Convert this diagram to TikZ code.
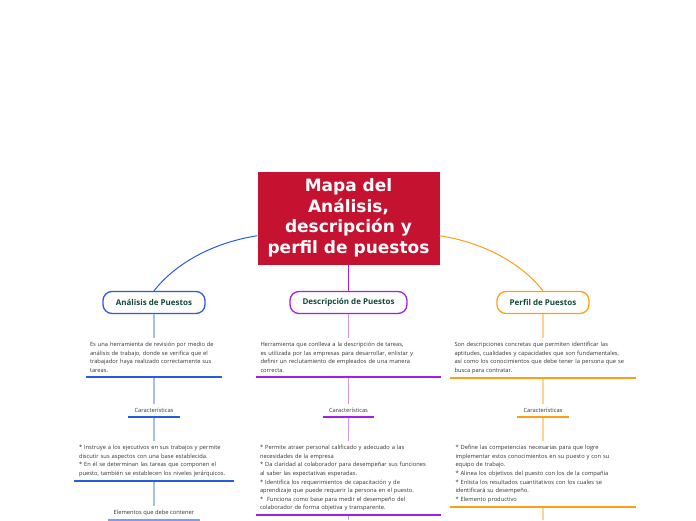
\documentclass[tikz,border=0pt]{standalone}
\usepackage{fontspec}
\setmainfont{Open Sans}
\newfontfamily\titlefont{DejaVu Sans}
\usepackage{xcolor}
\usetikzlibrary{positioning}

\definecolor{rootred}{RGB}{196,18,48}
\definecolor{labelgreen}{RGB}{18,72,56}
\definecolor{txtgray}{RGB}{50,50,50}
\definecolor{bluemain}{RGB}{40,90,230}
\definecolor{bluelight}{RGB}{165,190,245}
\definecolor{purplemain}{RGB}{160,32,230}
\definecolor{purplelight}{RGB}{210,150,240}
\definecolor{orangemain}{RGB}{255,160,20}
\definecolor{orangelight}{RGB}{255,210,150}

\begin{document}
\begin{tikzpicture}[
    x=1pt, y=-1pt,
    root/.style={fill=rootred, text=white, minimum width=182pt, minimum height=93pt, inner sep=0pt, align=center, font=\titlefont\bfseries\fontsize{17}{20.5}\selectfont},
    topic/.style={draw=#1, line width=1.3pt, rounded corners=9pt, minimum height=22pt, inner xsep=0pt, text=labelgreen, font=\bfseries\fontsize{8}{9}\selectfont},
    info/.style={text width=#1, inner ysep=4pt, align=left, text=txtgray, font=\fontsize{5.75}{8.6}\selectfont},
    tag/.style={minimum width=#1, inner xsep=0pt, inner ysep=4pt, text=txtgray, font=\fontsize{5.75}{8.6}\selectfont},
    trunk/.style={draw=#1, line width=1.2pt},
    bar/.style={draw=#1, line width=1.8pt}
]
    \useasboundingbox (0,0) rectangle (696,520);

    % Central topic
    \node[root] (root) at (348.5,218) {Mapa del\\Análisis,\\descripción y\\perfil de puestos};

    % Main branches
    \node[topic=bluemain, minimum width=102pt] (ana) at (154,302.5) {Análisis de Puestos};
    \node[topic=purplemain, minimum width=117pt] (desc) at (348.5,302.5) {Descripción de Puestos};
    \node[topic=orangemain, minimum width=92pt] (perf) at (543,302.5) {Perfil de Puestos};

    \draw[draw=bluemain, line width=1pt] (root.191) .. controls +(-45,7) and +(21,-27) .. (ana.north);
    \draw[draw=purplemain, line width=1pt] (root) -- (desc);
    \draw[draw=orangemain, line width=1pt] (root.-11) .. controls +(45,7) and +(-21,-27) .. (perf.north);

    % Analisis de Puestos
    \node[info=128pt, inner xsep=4pt, anchor=north] (anaTxt) at (154,338) {Es una herramienta de revisión por medio de\\análisis de trabajo, donde se verifica que el\\trabajador haya realizado correctamente sus\\tareas.};
    \node[tag=52pt] (anaCar) at (154,410.5) {Características};
    \node[info=150pt, inner xsep=5pt, anchor=north] (anaList) at (154,441) {* Instruye a los ejecutivos en sus trabajos y permite\\discutir sus aspectos con una base establecida.\\{}* En él se determinan las tareas que componen el\\puesto, también se establecen los niveles jerárquicos.};
    \node[tag=92pt] (anaElem) at (154,513) {Elementos que debe contener};

    \draw[trunk=bluelight] (ana) -- (anaTxt);
    \draw[trunk=bluelight] (anaTxt) -- (anaCar);
    \draw[trunk=bluelight] (anaCar) -- (anaList);
    \draw[trunk=bluelight] (anaList) -- (anaElem);
    \draw[bar=bluemain] (anaTxt.south west) -- (anaTxt.south east);
    \draw[bar=bluemain] (anaCar.south west) -- (anaCar.south east);
    \draw[bar=bluemain] (anaList.south west) -- (anaList.south east);
    \draw[bar=bluemain!60] (anaElem.south west) -- (anaElem.south east);

    % Descripcion de Puestos
    \node[info=176pt, inner xsep=4pt, anchor=north] (descTxt) at (348.5,338) {Herramienta que conlleva a la descripción de tareas,\\es utilizada por las empresas para desarrollar, enlistar y\\definir un reclutamiento de empleados de una manera\\correcta.};
    \node[tag=51pt] (descCar) at (348.5,410.5) {Características};
    \node[info=177pt, inner xsep=4pt, anchor=north] (descList) at (348.5,441) {* Permite atraer personal calificado y adecuado a las\\necesidades de la empresa\\{}* Da claridad al colaborador para desempeñar sus funciones\\al saber las expectativas esperadas.\\{}* Identifica los requerimientos de capacitación y de\\aprendizaje que puede requerir la persona en el puesto.\\{}*~~Funciona como base para medir el desempeño del\\colaborador de forma objetiva y transparente.};
    \coordinate (descEnd) at (348.5,520);

    \draw[trunk=purplelight] (desc) -- (descTxt);
    \draw[trunk=purplelight] (descTxt) -- (descCar);
    \draw[trunk=purplelight] (descCar) -- (descList);
    \draw[trunk=purplelight] (descList) -- (descEnd);
    \draw[bar=purplemain] (descTxt.south west) -- (descTxt.south east);
    \draw[bar=purplemain] (descCar.south west) -- (descCar.south east);
    \draw[bar=purplemain] (descList.south west) -- (descList.south east);

    % Perfil de Puestos
    \node[info=177pt, inner xsep=4pt, anchor=north] (perfTxt) at (543,338) {Son descripciones concretas que permiten identificar las\\aptitudes, cualidades y capacidades que son fundamentales,\\así como los conocimientos que debe tener la persona que se\\busca para contratar.};
    \node[tag=52pt] (perfCar) at (543,410.5) {Características};
    \node[info=175pt, inner xsep=5pt, anchor=north] (perfList) at (543,441) {* Define las competencias necesarias para que logre\\implementar estos conocimientos en su puesto y con su\\equipo de trabajo.\\{}* Alinea los objetivos del puesto con los de la compañía\\{}* Enlista los resultados cuantitativos con los cuales se\\identificará su desempeño.\\{}* Elemento productivo};
    \coordinate (perfEnd) at (543,520);

    \draw[trunk=orangelight] (perf) -- (perfTxt);
    \draw[trunk=orangelight] (perfTxt) -- (perfCar);
    \draw[trunk=orangelight] (perfCar) -- (perfList);
    \draw[trunk=orangelight] (perfList) -- (perfEnd);
    \draw[bar=orangemain] (perfTxt.south west) -- (perfTxt.south east);
    \draw[bar=orangemain] (perfCar.south west) -- (perfCar.south east);
    \draw[bar=orangemain] (perfList.south west) -- (perfList.south east);
\end{tikzpicture}
\end{document}
